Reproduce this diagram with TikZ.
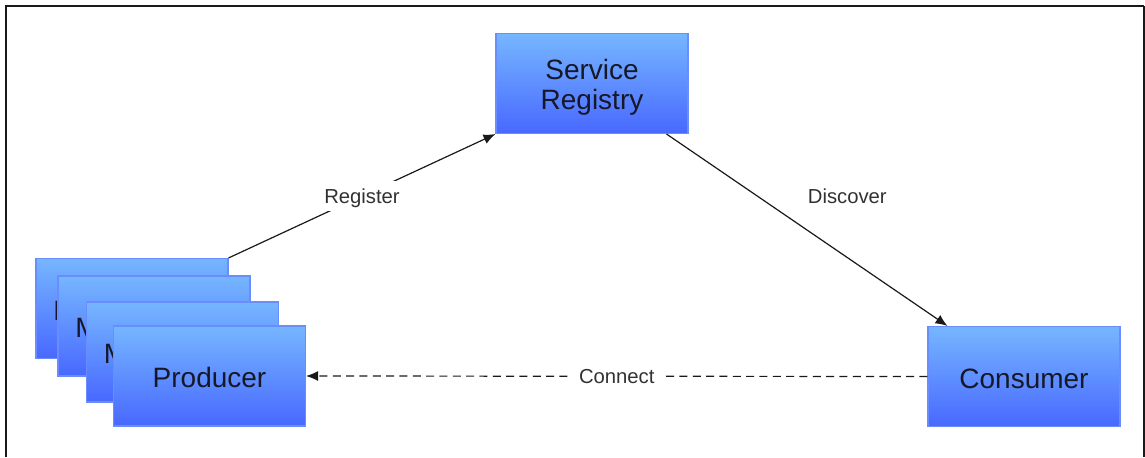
\documentclass[tikz,border=0pt]{standalone}
\usepackage{fontspec}
\setmainfont{Liberation Sans}
\usetikzlibrary{arrows.meta}
\definecolor{boxtop}{RGB}{118,182,255}
\definecolor{boxbot}{RGB}{72,104,255}
\definecolor{boxline}{RGB}{105,140,255}
\definecolor{boxtext}{RGB}{22,24,40}
\definecolor{lbltext}{RGB}{50,50,50}
\tikzset{
  svc/.style={draw=boxline, line width=0.8pt, top color=boxtop, bottom color=boxbot,
    minimum width=144pt, minimum height=75pt, inner sep=0pt, align=center,
    font=\fontsize{21}{22.5}\selectfont, text=boxtext, text height=18pt},
  conn/.style={line width=0.9pt, draw=black!90, -{Latex[length=9pt,width=7.5pt]}},
  lbl/.style={fill=white, inner sep=6pt, font=\fontsize{15.2}{17}\selectfont, text=lbltext},
  frameline/.style={draw=black!90, line width=1.6pt}
}
\begin{document}
\begin{tikzpicture}[x=0.75pt, y=-0.75pt]
\useasboundingbox (0,0) rectangle (1145,457);
\draw[frameline] (6,457) -- (6,6) -- (1144,6);
\draw[draw=black!90, line width=1pt] (1144,6) -- (1144,457);

\node[svc, text height=44pt] (reg) at (592,83.5) {Service\\Registry};
\node[svc] (cons) at (1024,376.5) {Consumer};
\node[svc] (p1) at (132,308.5) {Microservice};
\node[svc] (p2) at (154,326) {Microservice};
\node[svc] (p3) at (182.5,352) {Microservice};
\node[svc] (prod) at (209.5,376) {Producer};

\draw[conn] (p1.north east) -- node[lbl, pos=0.5, text depth=0pt] {Register} (reg.south west);
\draw[conn] ([xshift=-16.5pt]reg.south east) -- node[lbl, fill=none, inner sep=0pt, pos=0.323, anchor=west, xshift=37.5pt] {Discover} ([xshift=15pt]cons.north west);
\draw[conn, dash pattern=on 6pt off 4pt] (cons.west) -- node[lbl, pos=0.5] {Connect} (prod.east);
\end{tikzpicture}
\end{document}
